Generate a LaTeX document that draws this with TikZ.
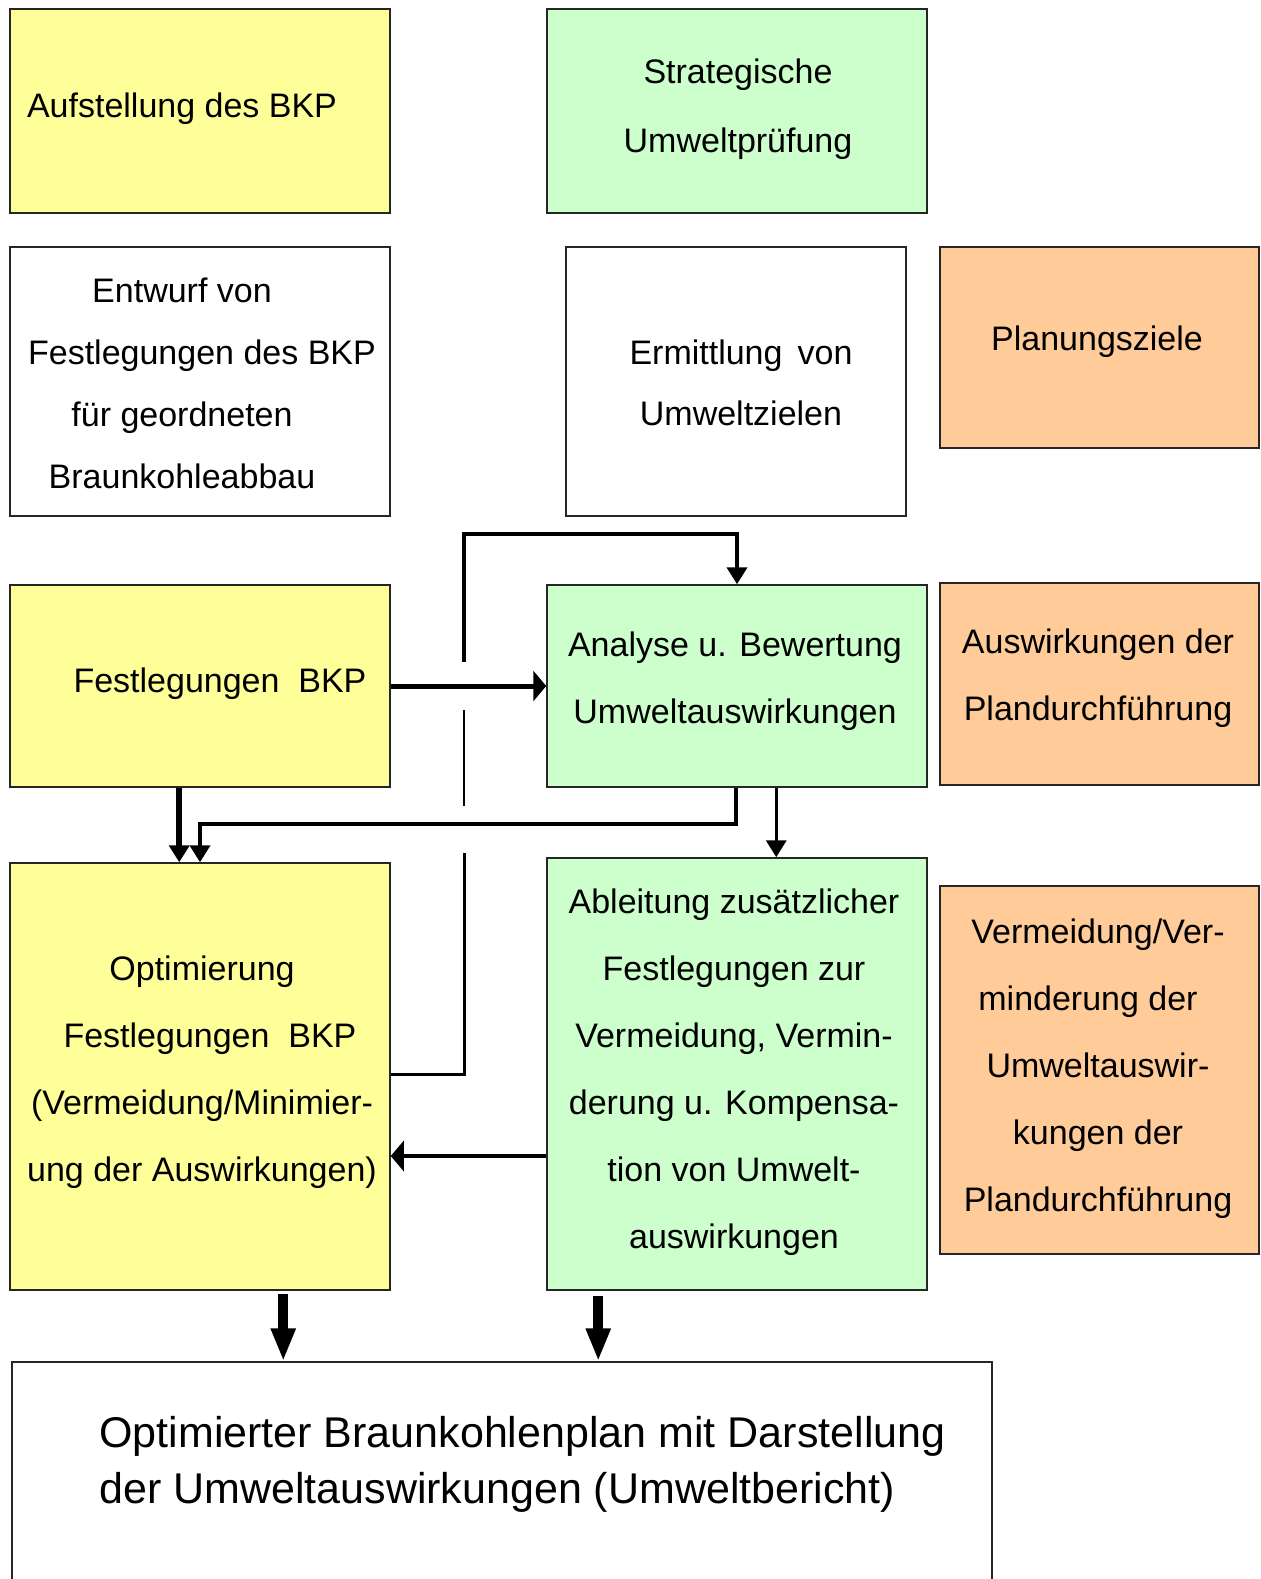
\documentclass[tikz,border=0pt]{standalone}
\usepackage{fontspec}
\setmainfont{Liberation Sans}
\usetikzlibrary{arrows.meta,fit,calc}
\definecolor{yel}{HTML}{FFFF99}
\definecolor{grn}{HTML}{CCFFCC}
\definecolor{org}{HTML}{FFCC99}
\begin{document}
\begin{tikzpicture}[x=0.5pt,y=-0.5pt,
  box/.style={draw=black!85, line width=0.75pt, inner sep=0pt},
  txt/.style={align=center, font=\fontsize{17}{33.5}\selectfont, inner sep=0pt},
  varr/.style={-{Triangle[length=8.5pt,width=10pt]}},
  harr/.style={-{Triangle[length=6.5pt,width=15pt]}},
  barr/.style={line width=5pt,-{Triangle[length=16.5pt,width=11.5pt]}}]
\useasboundingbox (0,0) rectangle (1260,1579);
\clip (0,0) rectangle (1260,1579);
\fill[white] (0,0) rectangle (1260,1579);
% boxes
\node[box, fill=yel, fit={(10,9)(390,213)}] (b1) {};
\node[txt] (t1) at (182,109) {Aufstellung des BKP};
\node[box, fill=grn, fit={(547,9)(927,213)}] (b2) {};
\node[txt, font=\fontsize{17}{34.75}\selectfont] (t2) at (738,109) {Strategische\\Umweltprüfung};
\node[box, fit={(10,247)(390,516)}] (b3) {};
\node[txt, font=\fontsize{17}{31}\selectfont] (t3) at (182,383) {Entwurf von\\\hspace*{20pt}Festlegungen des BKP\\für geordneten\\Braunkohleabbau};
\node[box, fit={(566,247)(906,516)}] (b4) {};
\node[txt, font=\fontsize{17}{30.5}\selectfont] (t4) at (741,383) {Ermittlung\, von\\Umweltzielen};
\node[box, fill=org, fit={(940,247)(1259,448)}] (b5) {};
\node[txt] (t5) at (1097,342) {Planungsziele};
\node[box, fill=yel, fit={(10,585)(390,787)}] (b6) {};
\node[txt] (t6) at (220,684) {Festlegungen~~BKP};
\node[box, fill=grn, fit={(547,585)(927,787)}] (b7) {};
\node[txt] (t7) at (735,681) {Analyse u. Bewertung\\Umweltauswirkungen};
\node[box, fill=org, fit={(940,583)(1259,785)}] (b8) {};
\node[txt] (t8) at (1098,678) {Auswirkungen der\\Plandurchführung};
\node[box, fill=yel, fit={(10,863)(390,1290)}] (b9) {};
\node[txt] (t9) at (202,1072) {Optimierung\\\hspace*{8pt}Festlegungen~~BKP\\(Vermeidung/Minimier-\\ung der Auswirkungen)};
\node[box, fill=grn, fit={(547,858)(927,1290)}] (b10) {};
\node[txt] (t10) at (734,1072) {Ableitung zusätzlicher\\Festlegungen zur\\Vermeidung, Vermin-\\derung u. Kompensa-\\tion von Umwelt-\\auswirkungen};
\node[box, fill=org, fit={(940,886)(1259,1254)}] (b11) {};
\node[txt] (t11) at (1098,1069) {Vermeidung/Ver-\\minderung der\hspace*{10pt}\mbox{}\\Umweltauswir-\\kungen der\\Plandurchführung};
\node[box, fit={(12,1362)(992,1620)}] (b12) {};
\node[txt, align=left, anchor=west, font=\fontsize{21.5}{28}\selectfont] (t12) at (99,1464) {Optimierter Braunkohlenplan mit Darstellung\\der Umweltauswirkungen (Umweltbericht)};
% connectors
\draw[line width=2.5pt, harr] (b6.east) -- (b7.west);
\draw[line width=3pt, varr] ($(b6.south west)+(170,0)$) -- ($(b9.north west)+(170,0)$);
\coordinate (c1) at (200,824);
\draw[line width=2pt, varr] ($(b7.south west)+(190,0)$) |- (c1) -- (c1 |- b9.north);
\draw[line width=1.75pt, varr] ($(b7.south west)+(230,0)$) -- ($(b10.north west)+(230,0)$);
\coordinate (p5) at ($(b10.west)+(0,82)$);
\draw[line width=2.25pt, harr] (p5) -- (p5 -| b9.east);
% loop with jump gaps
\coordinate (g0) at (b9.east |- 0,1074);
\coordinate (g1) at (464,853);
\coordinate (g2) at (464,806);
\coordinate (g3) at (464,710);
\coordinate (g4) at (464,662);
\draw[line width=1.5pt] (g0) -| (g1);
\draw[line width=1.1pt] (g2) -- (g3);
\draw[line width=2pt, varr] (g4) |- ($(b7.north)+(0,-50)$) -- (b7.north);
% bottom arrows
\draw[barr] ($(b9.south west)+(274,3)$) -- ($(b12.north west)+(272,0)$);
\draw[barr] ($(b10.south west)+(52,5)$) -- ($(b12.north west)+(587,0)$);
\end{tikzpicture}
\end{document}
